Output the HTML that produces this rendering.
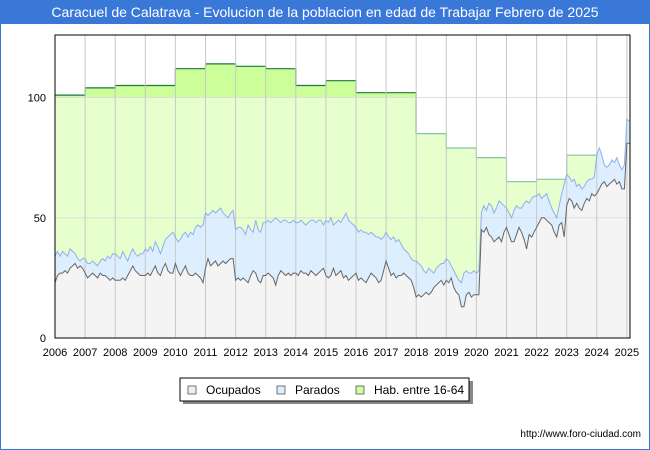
<!DOCTYPE html>
<html><head><meta charset="utf-8"><style>
body{margin:0;width:650px;height:450px;overflow:hidden;background:#fff;font-family:"Liberation Sans","DejaVu Sans",sans-serif}
#frame{position:absolute;left:0;top:0;width:648px;height:448px;border:1px solid #3a78d8}
#title{position:absolute;left:0;top:0;width:650px;height:24px;background:#3a78d8;color:#fff;font-size:14px;line-height:24px;text-align:center}
</style></head><body>
<div id="frame"></div>
<div id="title">Caracuel de Calatrava - Evolucion de la poblacion en edad de Trabajar Febrero de 2025</div>
<svg id="chart" width="650" height="450" style="position:absolute;left:0;top:0"></svg>
<script>
const years=[2006,2007,2008,2009,2010,2011,2012,2013,2014,2015,2016,2017,2018,2019,2020,2021,2022,2023,2024,2025];
const yTicks=[0,50,100];
const hab=[101,104,105,105,112,114,113,112,105,107,102,102,85,79,75,65,66,76,70,80];
const ocupados=[
23,26,27,27,28,27,29,30,31,29,30,29,
27,25,26,27,26,25,27,26,26,25,24,25,
24,24,24,25,24,26,28,30,28,27,26,26,
26,27,26,28,30,27,26,29,31,28,27,27,
31,28,26,28,30,27,26,26,27,26,25,23,
29,33,30,31,32,30,31,32,31,32,33,33,
24,25,24,25,24,23,26,28,27,24,23,26,
26,27,26,25,22,26,28,27,26,27,26,27,
27,26,28,27,27,26,28,27,26,27,28,29,
26,25,26,29,26,27,28,25,26,24,25,26,
27,24,25,24,23,25,27,26,25,23,24,28,
32,29,26,27,25,26,26,27,26,25,24,21,
17,18,17,18,19,18,19,21,22,23,24,22,
24,23,25,21,19,18,13,13,18,19,17,18,
18,18,45,44,46,43,42,40,41,42,40,44,
46,43,40,40,43,46,44,41,37,43,42,44,
46,48,50,50,49,48,47,44,42,47,48,42,
55,58,57,54,56,54,53,56,58,57,60,59,
60,62,64,65,63,64,65,66,64,65,62,62,
81,81];
const parados=[
11,10,7,9,7,7,8,6,4,4,2,4,
6,6,5,5,5,5,5,7,6,9,9,10,
11,10,9,11,10,6,7,7,7,7,9,9,
11,9,12,8,10,11,9,9,10,14,16,17,
11,12,15,15,14,15,18,17,19,21,21,24,
23,18,22,22,20,23,23,20,20,18,19,20,
21,21,22,20,19,24,19,16,22,21,21,22,
22,22,22,24,28,23,20,22,23,21,22,22,
21,22,21,21,20,22,21,22,22,22,21,18,
23,23,24,18,22,22,20,25,26,25,23,21,
19,20,20,20,21,18,17,17,17,19,17,14,
12,13,15,15,15,15,13,10,10,10,9,11,
15,13,13,10,8,11,9,6,7,7,7,9,
9,9,5,7,7,6,10,14,10,8,10,10,
9,10,7,11,7,13,13,12,13,15,16,11,
8,9,10,13,12,8,10,15,20,13,16,15,
13,12,8,9,11,9,7,8,8,8,12,22,
13,9,8,12,7,10,9,7,7,9,6,8,
16,17,12,7,8,8,9,7,11,7,8,10,
10,9];

const L=55,R=630,T=35,B=338,x0=2006,pxYear=30.1,yMax=126;
const X=t=>L+(t-x0)*pxYear;
const Y=v=>B-v*(B-T)/yMax;
const NS='http://www.w3.org/2000/svg';
const svg=document.getElementById('chart');
function mk(tag,attrs,parent){const e=document.createElementNS(NS,tag);for(const k in attrs)e.setAttribute(k,attrs[k]);(parent||svg).appendChild(e);return e;}
const n=ocupados.length;
const tm=i=>x0+i/12;

const defs=mk('defs',{});
const cp=mk('clipPath',{id:'above100'},defs);
mk('rect',{x:L,y:T,width:R-L,height:Y(100)-T},cp);
const cpE=mk('clipPath',{id:'early'},defs);
mk('rect',{x:L,y:T-2,width:X(2018)-L,height:B-T+4},cpE);
const cpL=mk('clipPath',{id:'late'},defs);
mk('rect',{x:X(2018),y:T-2,width:R-X(2018),height:B-T+4},cpL);

let habPts=[];
for(let i=0;i<n;i++){const h=hab[Math.floor(i/12)];habPts.push([X(tm(i)),Y(h)]);habPts.push([X(tm(i+1)),Y(h)]);}
habPts[habPts.length-1][0]=R;
const habLine='M'+habPts.map(p=>p[0].toFixed(1)+','+p[1].toFixed(1)).join('L');
const habArea=habLine+`L${R},${B}L${L},${B}Z`;
let a=mk('path',{d:habArea,fill:'#e6ffcc'});


a=mk('path',{d:habArea,fill:'#ccff99','clip-path':'url(#above100)'});


a=mk('path',{d:habLine,fill:'none',stroke:'#1a7a3a','stroke-width':1.2,'clip-path':'url(#early)'});


a=mk('path',{d:habLine,fill:'none',stroke:'#80c4a0','stroke-width':1.2,'clip-path':'url(#late)'});



let totPts=[],ocPts=[];
for(let i=0;i<n;i++){const xx=i===n-1?R:X(tm(i));totPts.push([xx,Y(ocupados[i]+parados[i])]);ocPts.push([xx,Y(ocupados[i])]);}
const line=p=>'M'+p.map(q=>q[0].toFixed(1)+','+q[1].toFixed(1)).join('L');
a=mk('path',{d:line(totPts)+`L${R},${B}L${L},${B}Z`,fill:'#ddeeff'});


a=mk('path',{d:line(ocPts)+`L${R},${B}L${L},${B}Z`,fill:'#f4f4f4'});



yTicks.forEach(v=>{if(v>0){const g=mk('line',{x1:L,x2:R,y1:Y(v),y2:Y(v),stroke:'#dddddd','stroke-width':1});

}});
years.forEach(yr=>{if(yr>x0){const g=mk('line',{x1:X(yr),x2:X(yr),y1:T,y2:B,stroke:'#c8c8c8','stroke-width':1});

}});

a=mk('path',{d:line(totPts),fill:'none',stroke:'#8fb0ea','stroke-width':1});


a=mk('path',{d:line(ocPts),fill:'none',stroke:'#666','stroke-width':1});



a=mk('rect',{x:L,y:T,width:R-L,height:B-T,fill:'none',stroke:'#000','stroke-width':1});



yTicks.forEach(v=>{const t=mk('text',{x:46,y:Y(v)+4,'text-anchor':'end','font-size':11,fill:'#000'});t.textContent=v;

});
years.forEach(yr=>{const t=mk('text',{x:X(yr),y:356,'text-anchor':'middle','font-size':11,fill:'#000'});t.textContent=yr;

});

const lg=mk('g',{});


mk('rect',{x:183,y:381,width:290,height:23,fill:'#888'},lg);
mk('rect',{x:180,y:378,width:289,height:23,fill:'#fff',stroke:'#000','stroke-width':1},lg);
const items=[['Ocupados','#eeeeee',188],['Parados','#ddeeff',277],['Hab. entre 16-64','#ccff99',356]];
items.forEach(it=>{const g=mk('g',{},lg);


mk('rect',{x:it[2],y:386,width:8,height:8,fill:it[1],stroke:'#555','stroke-width':0.8},g);
const t=mk('text',{x:it[2]+18,y:394,'font-size':12,fill:'#000'},g);t.textContent=it[0];});

const u=mk('text',{x:641,y:437,'text-anchor':'end','font-size':10,fill:'#000'});u.textContent='http://www.foro-ciudad.com';


</script>
</body></html>
